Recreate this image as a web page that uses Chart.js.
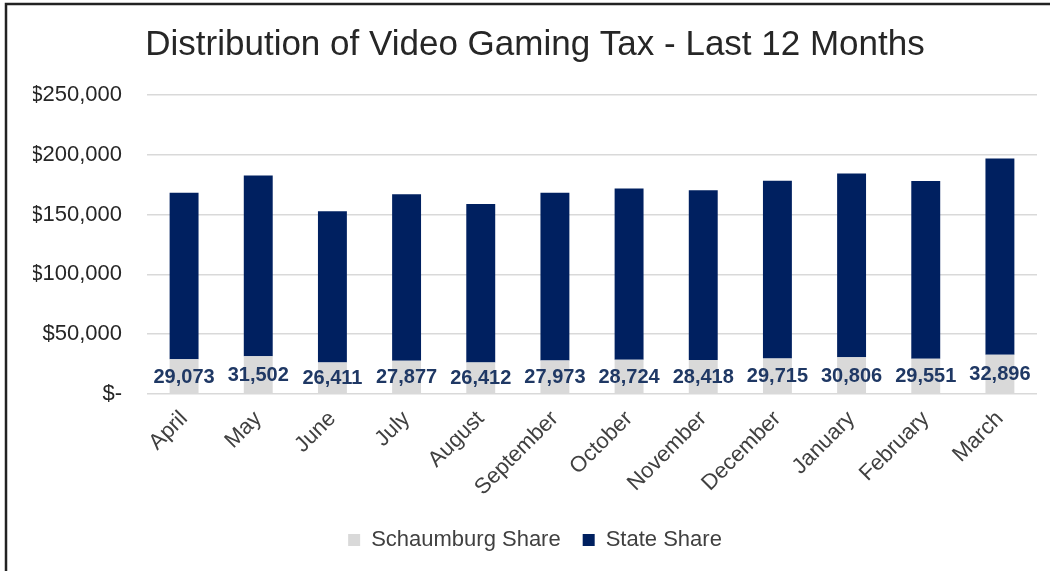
<!DOCTYPE html>
<html>
<head>
<meta charset="utf-8">
<script src="https://cdn.jsdelivr.net/npm/chart.js@4"></script>
<style>
  html, body { margin: 0; padding: 0; background: #fff; }
  #wrap { width: 1050px; height: 571px; position: relative; }
</style>
</head>
<body>
<div id="wrap"><canvas id="taxChart"></canvas></div>
<script>
// Chart data
const months = ['April', 'May', 'June', 'July', 'August', 'September', 'October', 'November', 'December', 'January', 'February', 'March'];
const schaumburgShare = [29073, 31502, 26411, 27877, 26412, 27973, 28724, 28418, 29715, 30806, 29551, 32896];
const stateShare = [139300, 151100, 126300, 139100, 132500, 140400, 143000, 141900, 148500, 153500, 148600, 164000];
const yTicks = [0, 50000, 100000, 150000, 200000, 250000];

const fontFamily = 'Arial, "Liberation Sans", sans-serif';

// Frame lines on top and left like the original image
const framePlugin = {
    id: 'frame',
    beforeDraw(chart) {
        const ctx = chart.ctx;
        ctx.save();
        ctx.fillStyle = '#fff';
        ctx.fillRect(0, 0, chart.width, chart.height);
        ctx.strokeStyle = '#222';
        ctx.lineWidth = 2.5;
        ctx.beginPath();
        ctx.moveTo(6, chart.height);
        ctx.lineTo(6, 4);
        ctx.lineTo(chart.width, 4);
        ctx.stroke();
        ctx.restore();
    }
};

// Value labels for the Schaumburg share
const labelPlugin = {
    id: 'barLabels',
    afterDatasetsDraw(chart) {
        const ctx = chart.ctx;
        const meta = chart.getDatasetMeta(0);
        ctx.save();
        ctx.font = 'bold 20px ' + fontFamily;
        ctx.fillStyle = '#1F3864';
        ctx.textAlign = 'center';
        ctx.textBaseline = 'middle';
        meta.data.forEach(function(bar, i) {
            const y = (bar.y + bar.base) / 2 + 1;
            ctx.fillText(schaumburgShare[i].toLocaleString('en-US'), bar.x, y);
        });
        ctx.restore();
    }
};

const ctx = document.getElementById('taxChart').getContext('2d');
new Chart(ctx, {
    type: 'bar',
    data: {
        labels: months,
        datasets: [{
            label: 'Schaumburg Share',
            data: schaumburgShare,
            backgroundColor: '#D9D9D9',
            categoryPercentage: 1,
            barPercentage: 0.39
        }, {
            label: 'State Share',
            data: stateShare,
            backgroundColor: '#002060',
            categoryPercentage: 1,
            barPercentage: 0.39
        }]
    },
    options: {
        responsive: true,
        maintainAspectRatio: false,
        animation: false,
        layout: {
            padding: { left: 33, right: 13, top: 0, bottom: 10 }
        },
        plugins: {
            title: {
                display: true,
                text: 'Distribution of Video Gaming Tax - Last 12 Months',
                color: '#262626',
                font: { family: fontFamily, size: 35, weight: 'normal' },
                padding: { top: 24, bottom: 29 }
            },
            legend: {
                position: 'bottom',
                labels: {
                    boxWidth: 12,
                    boxHeight: 12,
                    padding: 22,
                    color: '#404040',
                    font: { family: fontFamily, size: 22 }
                }
            },
            tooltip: { enabled: false }
        },
        scales: {
            x: {
                stacked: true,
                grid: { display: false },
                border: { display: false },
                ticks: {
                    color: '#404040',
                    font: { family: fontFamily, size: 22 },
                    minRotation: 45,
                    maxRotation: 45,
                    padding: 4
                },
                afterFit: function(scale) {
                    scale.height = 113;
                }
            },
            y: {
                stacked: true,
                min: 0,
                max: 250000,
                afterBuildTicks: function(scale) {
                    scale.ticks = yTicks.map(v => ({ value: v }));
                },
                grid: { color: '#D9D9D9', lineWidth: 1.5, drawTicks: false },
                border: { display: false },
                ticks: {
                    color: '#262626',
                    padding: 25,
                    font: { family: fontFamily, size: 22 },
                    callback: function(value) {
                        return value === 0 ? '$-' : '$' + value.toLocaleString('en-US');
                    }
                },
                afterFit: function(scale) {
                    scale.width = 114;
                }
            }
        }
    },
    plugins: [framePlugin, labelPlugin]
});
</script>
</body>
</html>
